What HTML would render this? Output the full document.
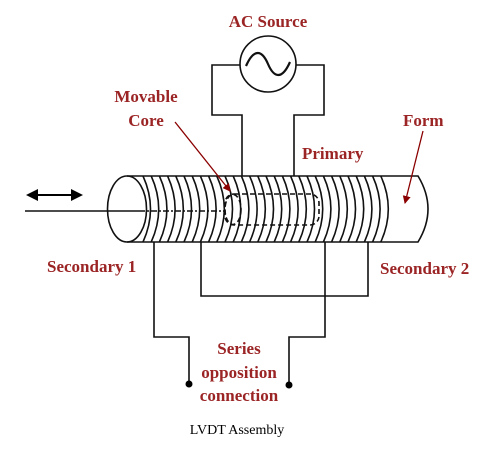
<!DOCTYPE html>
<html><head><meta charset="utf-8"><style>
html,body{margin:0;padding:0;background:#fff;width:494px;height:461px;overflow:hidden}
svg{display:block}
.lbl{font-family:"Liberation Serif",serif;font-weight:bold;font-size:17px;fill:#9b2425}
</style></head><body>
<svg width="494" height="461" viewBox="0 0 494 461" xmlns="http://www.w3.org/2000/svg">
<defs><marker id="ah" markerWidth="8" markerHeight="8" refX="7" refY="4" orient="auto" markerUnits="userSpaceOnUse"><path d="M0,0 L8,4 L0,8 z" fill="#8b0000"/></marker></defs>
<g fill="none" stroke="#111" stroke-width="1.6">
<circle cx="268" cy="64" r="28"/>
<path d="M246,66 C254,48 262,50 268,64 C274,78 282,80 290,62" stroke-width="2.2"/>
<path d="M240,65 H212 V115 H242 V176"/>
<path d="M296,65 H324 V115 H294 V176"/>
<path d="M127,176 H418 Q438,209 418,242 H127"/>
<ellipse cx="127" cy="209" rx="19.5" ry="33"/>
<g id="coils"></g>
<rect x="225" y="194" width="94" height="31" rx="9" stroke-dasharray="5,3"/>
<ellipse cx="233" cy="209.5" rx="8" ry="15" stroke-dasharray="5,3"/>
<line x1="139" y1="211" x2="225" y2="211" stroke-dasharray="6,2,2,2"/>
<line x1="25" y1="211" x2="139" y2="211"/>
<path d="M154,242 V337 H189 V384"/>
<path d="M201,242 V296 H368 V242"/>
<path d="M325,242 V337 H289 V385"/>
</g>
<circle cx="189" cy="384" r="3.5" fill="#000"/>
<circle cx="289" cy="385" r="3.5" fill="#000"/>
<g>
<line x1="33" y1="195" x2="76" y2="195" stroke="#000" stroke-width="2"/>
<path d="M26,195 L38,189 L38,201 z M83,195 L71,189 L71,201 z" fill="#000"/>
</g>
<line x1="175" y1="122" x2="230" y2="191" stroke="#8b0000" stroke-width="1.3" marker-end="url(#ah)"/>
<line x1="423" y1="131" x2="405" y2="203" stroke="#8b0000" stroke-width="1.3" marker-end="url(#ah)"/>
<text class="lbl" x="268" y="27" text-anchor="middle">AC Source</text>
<text class="lbl" x="146" y="102" text-anchor="middle">Movable</text>
<text class="lbl" x="146" y="126" text-anchor="middle">Core</text>
<text class="lbl" x="302" y="159">Primary</text>
<text class="lbl" x="403" y="126">Form</text>
<text class="lbl" x="47" y="272">Secondary 1</text>
<text class="lbl" x="380" y="274">Secondary 2</text>
<text class="lbl" x="239" y="354" text-anchor="middle">Series</text>
<text class="lbl" x="239" y="378" text-anchor="middle">opposition</text>
<text class="lbl" x="239" y="401" text-anchor="middle">connection</text>
<text x="237" y="434" text-anchor="middle" font-family="'Liberation Serif',serif" font-size="14" fill="#000">LVDT Assembly</text>
</svg>
<script>
var g=document.getElementById('coils');
for(var i=0;i<30;i++){
  var x=143+i*8.2;
  var p=document.createElementNS('http://www.w3.org/2000/svg','path');
  p.setAttribute('d','M'+x+',176 Q'+(x+15)+',209 '+x+',242');
  
  
  g.appendChild(p);
}
</script>
</body></html>
